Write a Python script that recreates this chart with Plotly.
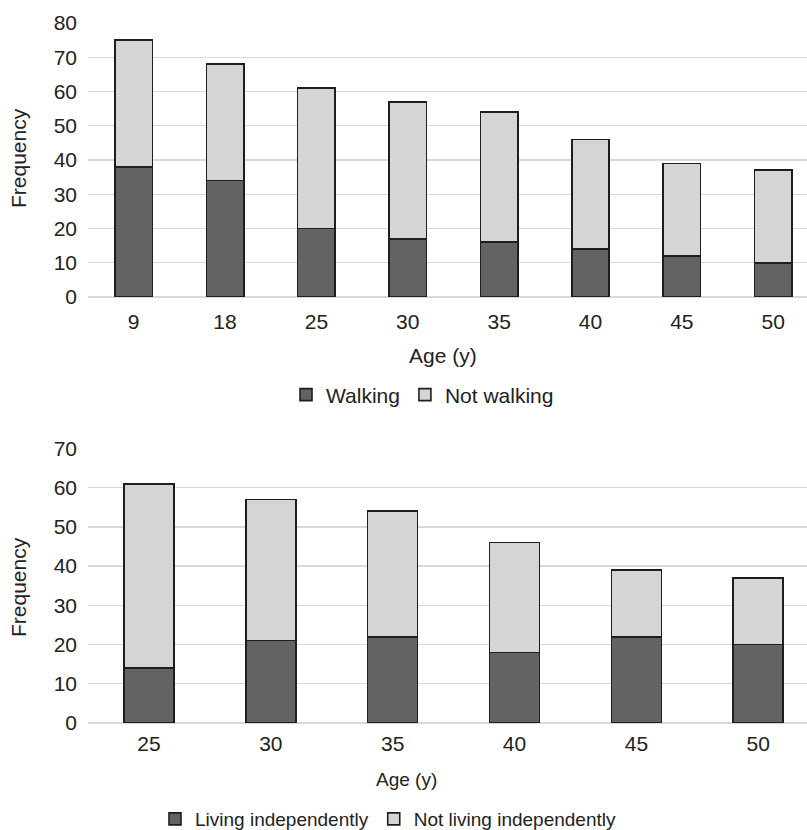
import plotly.graph_objects as go

# ---- data ----
ages_walk = ["9", "18", "25", "30", "35", "40", "45", "50"]
walking = [38, 34, 20, 17, 16, 14, 12, 10]
not_walking = [37, 34, 41, 40, 38, 32, 27, 27]

ages_live = ["25", "30", "35", "40", "45", "50"]
living_indep = [14, 21, 22, 18, 22, 20]
not_living_indep = [47, 36, 32, 28, 17, 17]

W, H = 807, 830
DARK = "#636365"
LIGHT = "#d4d5d7"
EDGE = "#1e1e1e"
GRID = "#d9d9d9"
TXT = "#222222"
FONT = "Liberation Sans, Arial, sans-serif"
FS = 21
FS_SMALL = 19

def px_x(v):
    return v / W

def px_y(v):
    return 1 - v / H

fig = go.Figure()

bar_kw = dict(width=0.41, marker_line_color=EDGE, marker_line_width=1.6)

fig.add_trace(go.Bar(x=ages_walk, y=walking, name="Walking", marker_color=DARK,
                     xaxis="x", yaxis="y", legend="legend", **bar_kw))
fig.add_trace(go.Bar(x=ages_walk, y=not_walking, name="Not walking", marker_color=LIGHT,
                     xaxis="x", yaxis="y", legend="legend", **bar_kw))
fig.add_trace(go.Bar(x=ages_live, y=living_indep, name="Living independently", marker_color=DARK,
                     xaxis="x2", yaxis="y2", legend="legend2", **bar_kw))
fig.add_trace(go.Bar(x=ages_live, y=not_living_indep, name="Not living independently",
                     marker_color=LIGHT, xaxis="x2", yaxis="y2", legend="legend2", **bar_kw))

axis_font = dict(family=FONT, size=FS, color=TXT)

xcommon = dict(type="category", showgrid=False, showline=False, zeroline=False,
               ticks="", tickfont=axis_font, fixedrange=True, automargin=False)
ycommon = dict(showgrid=True, gridcolor=GRID, gridwidth=1.3, zeroline=True,
               zerolinecolor=GRID, zerolinewidth=1.3, showline=False, ticks="",
               tickfont=axis_font, ticklabelstandoff=10, dtick=10, automargin=False,
               fixedrange=True)

fig.update_layout(
    width=W, height=H,
    margin=dict(l=0, r=0, t=0, b=0, autoexpand=False),
    paper_bgcolor="white", plot_bgcolor="white",
    barmode="stack",
    font=dict(family=FONT, size=FS, color=TXT),
    xaxis=dict(domain=[px_x(88), 1.0], anchor="y", range=[-0.5, 7.37],
               ticklabelstandoff=10, **xcommon),
    yaxis=dict(domain=[px_y(297), px_y(23)], anchor="x", range=[0, 80], **ycommon),
    xaxis2=dict(domain=[px_x(88), 1.0], anchor="y2", range=[-0.5, 5.40],
                ticklabelstandoff=6, **xcommon),
    yaxis2=dict(domain=[px_y(723), px_y(448.5)], anchor="x2", range=[0, 70], **ycommon),
    legend=dict(orientation="h", x=px_x(286), xanchor="left", y=px_y(395), yanchor="middle",
                font=dict(family=FONT, size=FS, color=TXT), bgcolor="rgba(0,0,0,0)",
                traceorder="normal"),
    legend2=dict(orientation="h", x=px_x(155), xanchor="left", y=px_y(819), yanchor="middle",
                 font=dict(family=FONT, size=FS_SMALL, color=TXT), bgcolor="rgba(0,0,0,0)",
                 traceorder="normal"),
    showlegend=True,
)

annots = [
    dict(text="Frequency", x=px_x(18), y=px_y(158), textangle=-90, size=FS),
    dict(text="Frequency", x=px_x(18), y=px_y(587), textangle=-90, size=FS),
    dict(text="Age (y)", x=px_x(443), y=px_y(355), size=FS),
    dict(text="Age (y)", x=px_x(406), y=px_y(779), size=FS_SMALL),
]
for a in annots:
    size = a.pop("size")
    fig.add_annotation(xref="paper", yref="paper", showarrow=False,
                       xanchor="center", yanchor="middle",
                       font=dict(family=FONT, size=size, color=TXT), **a)

fig.write_html(
    "out.html",
    config={"displayModeBar": False, "staticPlot": True},
    post_script="document.body.style.margin='0px';document.body.style.overflow='hidden';",
)
